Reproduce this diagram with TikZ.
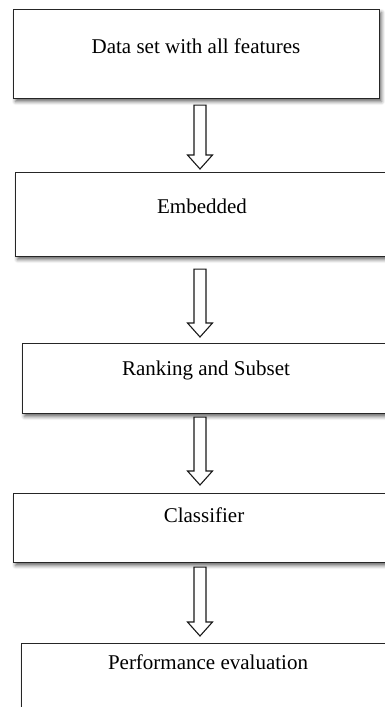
\documentclass[tikz,border=0pt]{standalone}
\usepackage{fontspec}
\setmainfont{Liberation Serif}
\usetikzlibrary{calc,shadows.blur}

\begin{document}
\begin{tikzpicture}[x=1pt,y=-1pt,
  stagebox/.style={draw=black!85, line width=1.1pt, fill=white, rectangle,
    inner sep=0pt, anchor=north west,
    blur shadow={shadow xshift=2pt, shadow yshift=-3pt,
      shadow blur radius=3.5pt, shadow opacity=60}},
  caption/.style={anchor=base, inner sep=0pt, text=black,
    font=\fontsize{21}{25}\selectfont},
  hollow/.style={draw=black!90, line width=1.1pt, fill=white,
    line join=miter,
    to path={let \p1=(\tikztostart), \p2=(\tikztotarget) in
      (\x1-6pt,\y1) -- (\x1+6pt,\y1) -- (\x1+6pt,\y2+14pt)
      -- (\x1+12.5pt,\y2+14pt) -- (\x2,\y2)
      -- (\x1-12.5pt,\y2+14pt) -- (\x1-6pt,\y2+14pt) -- cycle}}
]
\useasboundingbox (0,0) rectangle (385,707);
\clip (0,0) rectangle (385,707);

% process stages
\node[stagebox, minimum width=366pt, minimum height=89pt] (b1) at (13,9) {};
\node[stagebox, minimum width=390pt, minimum height=84pt] (b2) at (15,172) {};
\node[stagebox, minimum width=383pt, minimum height=70pt] (b3) at (22,343) {};
\node[stagebox, minimum width=392pt, minimum height=69pt] (b4) at (13,493) {};
\node[stagebox, minimum width=384pt, minimum height=80pt] (b5) at (21,643) {};

% stage captions
\node[caption] (t1) at (196,53)  {Data set with all features};
\node[caption] (t2) at (202,213) {Embedded};
\node[caption] (t3) at (206,375) {Ranking and Subset};
\node[caption] (t4) at (204,522) {Classifier};
\node[caption] (t5) at (208,669) {Performance evaluation};

% hollow block arrows between stages
\coordinate (ax) at (200,0);
\draw[hollow] ($(b1.south -| ax)+(0,6)$)  to ($(b2.north -| ax)+(0,-3)$);
\draw[hollow] ($(b2.south -| ax)+(0,12)$) to ($(b3.north -| ax)+(0,-6)$);
\draw[hollow] ($(b3.south -| ax)+(0,3)$)  to ($(b4.north -| ax)+(0,-8)$);
\draw[hollow] ($(b4.south -| ax)+(0,4)$)  to ($(b5.north -| ax)+(0,-7)$);
\end{tikzpicture}
\end{document}
